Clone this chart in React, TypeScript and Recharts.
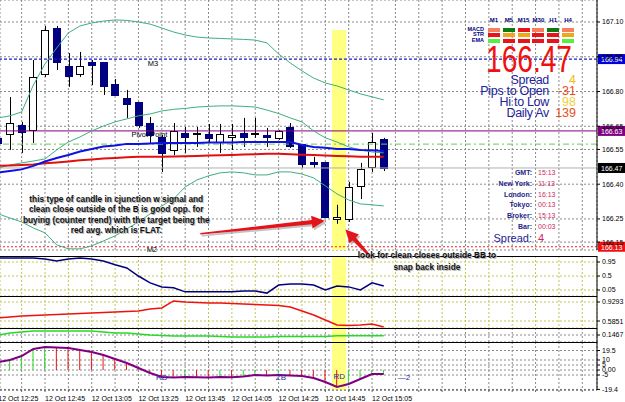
import React from "react";
import {
  ComposedChart,
  Bar,
  Line,
  XAxis,
  YAxis,
  CartesianGrid,
  ReferenceLine,
  ReferenceArea,
  ReferenceDot,
  Cell,
} from "recharts";

// ---------- data (USDJPY-style M5 bars, 12 Oct 12:25 .. 15:10) ----------
const barTimes = [
  "12:25", "12:30", "12:35", "12:40", "12:45", "12:50", "12:55", "13:00", "13:05", "13:10",
  "13:15", "13:20", "13:25", "13:30", "13:35", "13:40", "13:45", "13:50", "13:55", "14:00",
  "14:05", "14:10", "14:15", "14:20", "14:25", "14:30", "14:35", "14:40", "14:45", "14:50",
  "14:55", "15:00", "15:05", "15:10",
];
const opens = [
  166.6, 166.617, 166.656, 166.634, 166.876, 167.074, 166.91, 166.876, 166.927, 166.927,
  166.833, 166.772, 166.755, 166.664, 166.604, 166.548, 166.621, 166.617, 166.617, 166.582,
  166.604, 166.621, 166.617, 166.613, 166.6, 166.647, 166.574, 166.496, 166.496, 166.25,
  166.25, 166.393, 166.475, 166.595,
];
const highs = [
  166.63, 166.776, 166.669, 166.936, 167.083, 167.083, 166.966, 166.971, 166.936, 166.927,
  166.854, 166.807, 166.755, 166.69, 166.613, 166.664, 166.647, 166.647, 166.66, 166.66,
  166.66, 166.686, 166.686, 166.643, 166.634, 166.664, 166.574, 166.518, 166.496, 166.311,
  166.41, 166.492, 166.621, 166.6,
];
const lows = [
  166.5, 166.548, 166.535, 166.578, 166.863, 166.893, 166.82, 166.863, 166.828, 166.785,
  166.785, 166.686, 166.643, 166.578, 166.453, 166.526, 166.535, 166.561, 166.582, 166.535,
  166.548, 166.561, 166.6, 166.561, 166.591, 166.556, 166.47, 166.47, 166.254, 166.229,
  166.237, 166.336, 166.453, 166.457,
];
const closes = [
  166.58, 166.664, 166.625, 166.863, 167.065, 166.927, 166.867, 166.91, 166.914, 166.824,
  166.785, 166.746, 166.656, 166.613, 166.535, 166.63, 166.604, 166.621, 166.6, 166.617,
  166.613, 166.604, 166.621, 166.604, 166.63, 166.565, 166.487, 166.487, 166.259, 166.259,
  166.388, 166.466, 166.582, 166.47,
];
const bbUpper = [
  166.686, 166.695, 166.712, 166.828, 166.919, 166.988, 167.053, 167.083, 167.096, 167.104,
  167.109, 167.107, 167.1, 167.091, 167.074, 167.057, 167.044, 167.035, 167.031, 167.029,
  167.027, 167.025, 167.022, 167.01, 166.962, 166.923, 166.889, 166.858, 166.837, 166.824,
  166.807, 166.79, 166.777, 166.764,
];
const bbMiddle = [
  166.47, 166.483, 166.492, 166.5, 166.509, 166.548, 166.582, 166.604, 166.63, 166.651,
  166.669, 166.682, 166.695, 166.703, 166.716, 166.723, 166.727, 166.733, 166.736, 166.738,
  166.738, 166.736, 166.733, 166.72, 166.705, 166.686, 166.669, 166.63, 166.6, 166.582,
  166.561, 166.548, 166.539, 166.535,
];
const bbLower = [
  166.272, 166.254, 166.237, 166.211, 166.19, 166.138, 166.121, 166.121, 166.134, 166.155,
  166.177, 166.207, 166.237, 166.272, 166.306, 166.336, 166.388, 166.418, 166.436, 166.449,
  166.453, 166.449, 166.44, 166.44, 166.453, 166.453, 166.444, 166.427, 166.393, 166.358,
  166.332, 166.315, 166.311, 166.306,
];
const maFast = [
  166.451, 166.457, 166.464, 166.479, 166.498, 166.513, 166.526, 166.541, 166.552, 166.563,
  166.567, 166.574, 166.574, 166.576, 166.578, 166.578, 166.578, 166.578, 166.58, 166.58,
  166.58, 166.582, 166.582, 166.582, 166.582, 166.582, 166.569, 166.561, 166.557, 166.552,
  166.552, 166.548, 166.546, 166.543,
];
const maSlow = [
  166.479, 166.481, 166.483, 166.485, 166.49, 166.494, 166.498, 166.503, 166.507, 166.511,
  166.513, 166.516, 166.518, 166.519, 166.519, 166.52, 166.521, 166.522, 166.524, 166.525,
  166.526, 166.528, 166.529, 166.531, 166.531, 166.529, 166.527, 166.526, 166.524, 166.522,
  166.521, 166.519, 166.519, 166.518,
];
const stochLine = [
  1.08, 1.08, 1.08, 1.08, 1.05, 0.98, 1.05, 1.08, 1.05, 0.98,
  0.86, 0.76, 0.5, 0.28, 0.15, 0.12, -0.01, -0.01, -0.01, -0.01,
  -0.01, 0.02, 0.02, -0.05, 0.21, 0.24, 0.24, 0.21, 0.05, 0.18,
  0.15, 0.05, 0.28, 0.18,
];
const rsiLine = [
  0.64, 0.658, 0.676, 0.685, 0.694, 0.703, 0.712, 0.721, 0.73, 0.739,
  0.748, 0.757, 0.766, 0.803, 0.821, 0.948, 0.929, 0.92, 0.911, 0.911,
  0.902, 0.893, 0.884, 0.875, 0.866, 0.839, 0.766, 0.694, 0.604, 0.513,
  0.504, 0.513, 0.531, 0.477,
];
const adxLine = [
  0.147, 0.167, 0.177, 0.187, 0.187, 0.187, 0.187, 0.187, 0.187, 0.177,
  0.167, 0.167, 0.157, 0.147, 0.142, 0.137, 0.137, 0.137, 0.137, 0.132,
  0.127, 0.127, 0.127, 0.127, 0.132, 0.132, 0.132, 0.132, 0.132, 0.14,
  0.14, 0.14, 0.14, 0.14,
];
const oscLine = [
  8, 10, 14, 21, 23, 22.5, 22, 20, 18, 15,
  11, 7, 2, -3, -7, -7.5, -7, -7.3, -7.5, -7,
  -7.2, -6.5, -5, -5.5, -5, -5.5, -6, -8, -12, -17,
  -14, -9, -4, -4,
];
const timeLabels = [
  "12 Oct 12:25", "12 Oct 12:45", "12 Oct 13:05", "12 Oct 13:25", "12 Oct 13:45",
  "12 Oct 14:05", "12 Oct 14:25", "12 Oct 14:45", "12 Oct 15:05",
];
const priceTicks = [167.1, 166.95, 166.8, 166.65, 166.55, 166.4, 166.25, 166.15];
const stochTicks = [0.95, 0.5, 0.05];
const rsiTicks = [0.9293, 0.5851];
const adxTicks = [0.1467];
const oscTicks = [19.5, 10, 5, 0, -5, -19.4];
const oscTickText = ["19.5", "10", "5", "0.00", "-5", "-19.4"];

const levelM3 = 166.94;
const levelPivot = 166.63;
const levelGreen = 166.573;
const levelBid = 166.47;
const levelM2 = 166.13;
const highlightBar = 29;

const tfNames = ["M1", "M5", "M15", "M30", "H1", "H4"];
const signalNames = ["MACD", "STR", "EMA"];
const signalStates = [
  ["weakDown", "up", "down", "weakDown", "up", "weakDown"],
  ["down", "flat", "flat", "down", "down", "flat"],
  ["weakUp", "down", "down", "down", "down", "weakUp"],
];
const statsNames = ["Spread", "Pips to Open", "Hi to Low", "Daily Av"];
const statsValues = ["4", "-31", "98", "139"];
const clockNames = ["GMT:", "New York:", "London:", "Tokyo:", "Broker:", "Bar:"];
const clockValues = ["15:13", "11:13", "16:13", "00:13", "15:13", "00:03"];

// ---------- layout / style ----------
const FONT = "'Liberation Sans', Arial, sans-serif";
const W = 625;
const AXIS_W = 28;
const X_DOMAIN: [number, number] = [0.146, 51.26];
const gridTicks = Array.from({ length: 26 }, (_, k) => k * 2);
const NAVY = "#000080";
const BB = "#3fae7c";
const GRID = "#8a8a8a";
const LEVEL = "#c4c456";
const YELLOW = "#ffff80";
const stateColor: Record<string, string> = {
  up: "#0b7a12",
  weakUp: "#58f040",
  down: "#e8141c",
  weakDown: "#f4805c",
  flat: "#f0a818",
};
const statColor = ["#f0c010", "#e84a18", "#f0d040", "#e4501c"];

const rows = barTimes.map((t, i) => ({
  i,
  t,
  open: opens[i],
  high: highs[i],
  low: lows[i],
  close: closes[i],
  range: [lows[i], highs[i]],
  up: bbUpper[i],
  mid: bbMiddle[i],
  lo: bbLower[i],
  fast: maFast[i],
  slow: maSlow[i],
  stoch: stochLine[i],
  rsi: rsiLine[i],
  adx: adxLine[i],
  osc: oscLine[i],
}));

const tickStyle = { fontSize: 7, fill: "#000", fontFamily: FONT };

function Candle(props: any) {
  const { x, y, width, height, payload } = props;
  if (!payload || x == null) return null;
  const top0 = height < 0 ? y + height : y;
  const h = Math.abs(height);
  const span = payload.high - payload.low || 1;
  const py = (p: number) => top0 + ((payload.high - p) / span) * h;
  const bodyTop = py(Math.max(payload.open, payload.close));
  const bodyBot = py(Math.min(payload.open, payload.close));
  const cx = Math.round(x + width / 2) + 0.5;
  const bull = payload.close >= payload.open;
  const bx = Math.round(x) + 0.5;
  return (
    <g>
      <line x1={cx} x2={cx} y1={top0} y2={top0 + h} stroke="#000" strokeWidth={1} />
      <rect
        x={bx}
        y={Math.round(bodyTop) + 0.5}
        width={Math.round(width) - 1}
        height={Math.max(Math.round(bodyBot - bodyTop), 1)}
        fill={bull ? "#fff" : NAVY}
        stroke={bull ? "#000" : NAVY}
        strokeWidth={1}
      />
    </g>
  );
}

function Arrow(props: any) {
  const { x1, y1, x2, y2 } = props;
  const dx = x2 - x1;
  const dy = y2 - y1;
  const len = Math.hypot(dx, dy) || 1;
  const ux = dx / len;
  const uy = dy / len;
  const nx = -uy;
  const ny = ux;
  const head = 13;
  const hw = 6.5;
  const bx = x2 - ux * head;
  const by = y2 - uy * head;
  const pts = [
    [x1 + nx * 0.8, y1 + ny * 0.8],
    [bx + nx * 2.2, by + ny * 2.2],
    [bx + nx * hw, by + ny * hw],
    [x2, y2],
    [bx - nx * hw, by - ny * hw],
    [bx - nx * 2.2, by - ny * 2.2],
    [x1 - nx * 0.8, y1 - ny * 0.8],
  ];
  const s = pts.map((p) => p.join(",")).join(" ");
  return (
    <g>
      <polygon points={s} fill="#9a9a9a" opacity={0.6} transform="translate(1.5,2)" />
      <polygon points={s} fill="#e4141a" />
    </g>
  );
}

function noteShape(lines: string[], lineH: number) {
  return (p: any) => (
    <g fontFamily={FONT} fontSize={8.3} fontWeight="bold" textAnchor="middle">
      {lines.map((s, k) => (
        <text key={"s" + k} x={p.cx + 1} y={p.cy + k * lineH + 1} fill="#b8b8b8">
          {s}
        </text>
      ))}
      {lines.map((s, k) => (
        <text key={k} x={p.cx} y={p.cy + k * lineH} fill="#111">
          {s}
        </text>
      ))}
    </g>
  );
}

function textShape(s: string, color: string, size: number, anchor = "start") {
  return (p: any) => (
    <text x={p.cx} y={p.cy} fill={color} fontSize={size} fontFamily={FONT} textAnchor={anchor as any} dominantBaseline="central">
      {s}
    </text>
  );
}

function priceBox(text: string, bg: string) {
  return (p: any) => {
    const vb = p.viewBox || {};
    const x = vb.x + vb.width + 1;
    return (
      <g>
        <rect x={x} y={vb.y - 5} width={27} height={10} fill={bg} />
        <text x={x + 3} y={vb.y + 0.5} fill="#fff" fontSize={7} fontFamily={FONT} dominantBaseline="central">
          {text}
        </text>
      </g>
    );
  };
}

function TimeTick(props: any) {
  const { x, y, payload } = props;
  const v = payload.value;
  if (v % 4 !== 0 || v / 4 >= timeLabels.length) return null;
  return (
    <text x={x} y={y + 7} fontSize={7} fontFamily={FONT} fill="#000" textAnchor="start">
      {timeLabels[v / 4]}
    </text>
  );
}

function Sub(props: {
  top: number;
  height: number;
  domain: [number, number];
  ticks: number[];
  tickText?: string[];
  children: React.ReactNode;
  bottomAxis?: boolean;
  gridStroke?: string;
}) {
  const { top, height, domain, ticks, tickText, children, bottomAxis, gridStroke } = props;
  return (
    <div style={{ position: "absolute", left: 0, top, zIndex: 1 }}>
      <ComposedChart width={W} height={height + (bottomAxis ? 12 : 0)} data={rows} margin={{ top: 0, right: 0, bottom: 0, left: 0 }}>
        <XAxis
          type="number"
          dataKey="i"
          domain={X_DOMAIN}
          ticks={gridTicks}
          allowDataOverflow
          hide={!bottomAxis}
          height={12}
          interval={0}
          tick={<TimeTick />}
          tickSize={2}
          axisLine={{ stroke: "#666", strokeDasharray: "2 2" }}
          tickLine={{ stroke: "#666" }}
        />
        <YAxis
          orientation="right"
          width={AXIS_W}
          domain={domain}
          ticks={ticks}
          interval={0}
          allowDataOverflow
          tick={tickStyle}
          tickFormatter={(v: number) => (tickText ? tickText[ticks.indexOf(v)] : String(v))}
          tickSize={3}
          tickMargin={2}
          axisLine={{ stroke: "#000" }}
          tickLine={{ stroke: "#000" }}
        />
        <ReferenceArea x1={highlightBar - 0.42} x2={highlightBar + 0.78} y1={domain[0]} y2={domain[1]} fill={YELLOW} fillOpacity={1} stroke="none" ifOverflow="hidden" />
        <CartesianGrid stroke={gridStroke || GRID} strokeDasharray="2 2" />
        <ReferenceLine y={domain[1]} stroke="#000" strokeWidth={2} ifOverflow="visible" />
        {children}
      </ComposedChart>
    </div>
  );
}

export default function App() {
  const mainDomain: [number, number] = [166.116, 167.195];
  return (
    <div style={{ position: "absolute", left: 0, top: 0, width: W, height: 402, background: "#fff", overflow: "hidden", fontFamily: FONT }}>
      {/* main price window */}
      <div style={{ position: "absolute", left: 0, top: 0, zIndex: 2 }}>
        <ComposedChart width={W} height={284} data={rows} margin={{ top: 0, right: 0, bottom: 34, left: 0 }}>
          <XAxis type="number" dataKey="i" domain={X_DOMAIN} ticks={gridTicks} allowDataOverflow hide interval={0} />
          <YAxis
            orientation="right"
            width={AXIS_W}
            domain={mainDomain}
            ticks={priceTicks}
            interval={0}
            allowDataOverflow
            tick={tickStyle}
            tickFormatter={(v: number) => v.toFixed(2)}
            tickSize={3}
            tickMargin={2}
            axisLine={{ stroke: "#000" }}
            tickLine={{ stroke: "#000" }}
          />
          <ReferenceArea x1={highlightBar - 0.42} x2={highlightBar + 0.78} y1={mainDomain[0]} y2={167.065} fill={YELLOW} fillOpacity={1} stroke="none" />
          <CartesianGrid stroke={GRID} strokeDasharray="2 2" />
          <ReferenceLine y={levelM3} stroke="#1a1ad0" strokeDasharray="3 2" strokeWidth={1.2} label={priceBox("166.94", "#0000d8")} />
          <ReferenceLine y={levelPivot} stroke="#800080" strokeWidth={1} label={priceBox("166.63", "#800080")} />
          <ReferenceLine y={levelGreen} stroke="#66cc55" strokeDasharray="6 3 2 3" strokeWidth={1} />
          <ReferenceLine y={levelBid} stroke="#b0b0b0" strokeWidth={1} label={priceBox("166.47", "#000")} />
          <ReferenceLine y={levelM2} stroke="#ee2222" strokeDasharray="2 2" strokeWidth={1} label={priceBox("166.13", "#ee1111")} />
          <Line dataKey="up" stroke={BB} strokeWidth={1} dot={false} activeDot={false} isAnimationActive={false} />
          <Line dataKey="mid" stroke={BB} strokeWidth={1} dot={false} activeDot={false} isAnimationActive={false} />
          <Line dataKey="lo" stroke={BB} strokeWidth={1} dot={false} activeDot={false} isAnimationActive={false} />
          <Line dataKey="slow" stroke="#e01010" strokeWidth={2} dot={false} activeDot={false} isAnimationActive={false} />
          <Line dataKey="fast" stroke="#1010e0" strokeWidth={2} dot={false} activeDot={false} isAnimationActive={false} />
          <Bar dataKey="range" barSize={8} shape={<Candle />} isAnimationActive={false} />
          <ReferenceDot x={12.8} y={166.92} r={0} ifOverflow="visible" shape={textShape("M3", "#000", 7.5)} />
          <ReferenceDot x={11.4} y={166.613} r={0} ifOverflow="visible" shape={textShape("Pivot Point", "#000", 7.5)} />
          <ReferenceDot x={12.7} y={166.118} r={0} ifOverflow="visible" shape={textShape("M2", "#000", 7.5)} />
          <ReferenceDot
            x={10.1}
            y={166.325}
            r={0}
            ifOverflow="visible"
            shape={noteShape(
              [
                "this type of candle in cjunction w signal and",
                "clean close outside of the B is good opp. for",
                "buying (counter trend) with the target being the",
                "red avg. which is FLAT.",
              ],
              10.5
            )}
          />
          <ReferenceDot
            x={36.7}
            y={166.08}
            r={0}
            ifOverflow="visible"
            shape={noteShape(["look for clean closes outside BB to", "snap back inside"], 11.5)}
          />
          <ReferenceLine segment={[{ x: 17.3, y: 166.186 }, { x: 27.95, y: 166.242 }]} ifOverflow="visible" shape={<Arrow />} />
          <ReferenceLine segment={[{ x: 32.0, y: 166.08 }, { x: 29.72, y: 166.205 }]} ifOverflow="visible" shape={<Arrow />} />
        </ComposedChart>
      </div>

      {/* sub window 1 */}
      <Sub top={256} height={40} domain={[-0.143, 1.143]} ticks={stochTicks} gridStroke={LEVEL}>
        <Line dataKey="stoch" stroke={NAVY} strokeWidth={1.5} dot={false} activeDot={false} isAnimationActive={false} />
      </Sub>
      {/* sub window 2 */}
      <Sub top={296} height={32} domain={[0.459, 1.038]} ticks={rsiTicks} gridStroke={LEVEL}>
        <Line dataKey="rsi" stroke="#ee1111" strokeWidth={1.5} dot={false} activeDot={false} isAnimationActive={false} />
      </Sub>
      {/* sub window 3 */}
      <Sub top={328} height={14} domain={[0.0767, 0.2167]} ticks={adxTicks}>
        <Line dataKey="adx" stroke="#22dd22" strokeWidth={1.5} dot={false} activeDot={false} isAnimationActive={false} />
      </Sub>
      {/* sub window 4 */}
      <Sub top={342} height={48} domain={[-20, 28]} ticks={oscTicks} tickText={oscTickText} bottomAxis>
        <Bar dataKey="osc" barSize={1} isAnimationActive={false}>
          {rows.map((r, k) => (
            <Cell key={k} fill={k > 0 && r.osc < rows[k - 1].osc ? "#ee1111" : "#22dd22"} />
          ))}
        </Bar>
        <Line dataKey="osc" stroke="#800080" strokeWidth={2} dot={false} activeDot={false} isAnimationActive={false} />
        <ReferenceDot x={14} y={-7} r={0} ifOverflow="visible" shape={textShape("RD", "#2a2aa0", 8, "middle")} />
        <ReferenceDot x={24.2} y={-7} r={0} ifOverflow="visible" shape={textShape("ZB", "#2a2aa0", 8, "middle")} />
        <ReferenceDot x={29.2} y={-6.5} r={0} ifOverflow="visible" shape={textShape("RD", "#2a2aa0", 8, "middle")} />
        <ReferenceDot x={34.2} y={-7} r={0} ifOverflow="visible" shape={textShape("\u20142", "#2a2aa0", 8)} />
      </Sub>

      {/* signal matrix and info panel */}
      <div style={{ position: "absolute", left: 0, top: 0, width: W, height: 402, zIndex: 3, pointerEvents: "none" }}>
        {tfNames.map((n, c) => (
          <div key={n} style={{ position: "absolute", left: 488 + c * 14.8, top: 17, width: 12, textAlign: "center", fontSize: 6, color: NAVY, fontWeight: "bold" }}>
            {n}
          </div>
        ))}
        {signalNames.map((n, r) => (
          <div key={n} style={{ position: "absolute", right: W - 484, top: 25.5 + r * 5.6, fontSize: 5.5, color: NAVY, fontWeight: "bold", lineHeight: "6px" }}>
            {n}
          </div>
        ))}
        {signalStates.map((row, r) =>
          row.map((s, c) => (
            <div key={r + "-" + c} style={{ position: "absolute", left: 488 + c * 14.8, top: 27.5 + r * 5.6, width: 12, height: 4, background: stateColor[s] }} />
          ))
        )}
        <div style={{ position: "absolute", left: 486, top: 38, fontSize: 37, color: "#ee1111", transform: "scaleX(0.76)", transformOrigin: "left top", lineHeight: "44px" }}>
          166.47
        </div>
        {statsNames.map((n, k) => (
          <div key={n} style={{ position: "absolute", right: W - 549, top: 74 + k * 11, fontSize: 12.5, color: "#23239a", lineHeight: "13px", letterSpacing: -0.3 }}>
            {n}
          </div>
        ))}
        {statsValues.map((v, k) => (
          <div key={"v" + k} style={{ position: "absolute", right: W - 576, top: 74 + k * 11, fontSize: 12.5, color: statColor[k], lineHeight: "13px" }}>
            {v}
          </div>
        ))}
        {clockNames.map((n, k) => (
          <div key={n} style={{ position: "absolute", right: W - 532, top: 169 + k * 10.8, fontSize: 7, color: "#23238a", lineHeight: "8px", fontWeight: "bold" }}>
            {n}
          </div>
        ))}
        {clockValues.map((v, k) => (
          <div key={"c" + k} style={{ position: "absolute", left: 538, top: 169 + k * 10.8, fontSize: 7, color: "#d02858", lineHeight: "8px" }}>
            {v}
          </div>
        ))}
        <div style={{ position: "absolute", right: W - 532, top: 232, fontSize: 11, color: "#23239a", lineHeight: "12px" }}>Spread:</div>
        <div style={{ position: "absolute", left: 538, top: 232, fontSize: 11, color: "#d02858", lineHeight: "12px" }}>4</div>
      </div>
    </div>
  );
}
